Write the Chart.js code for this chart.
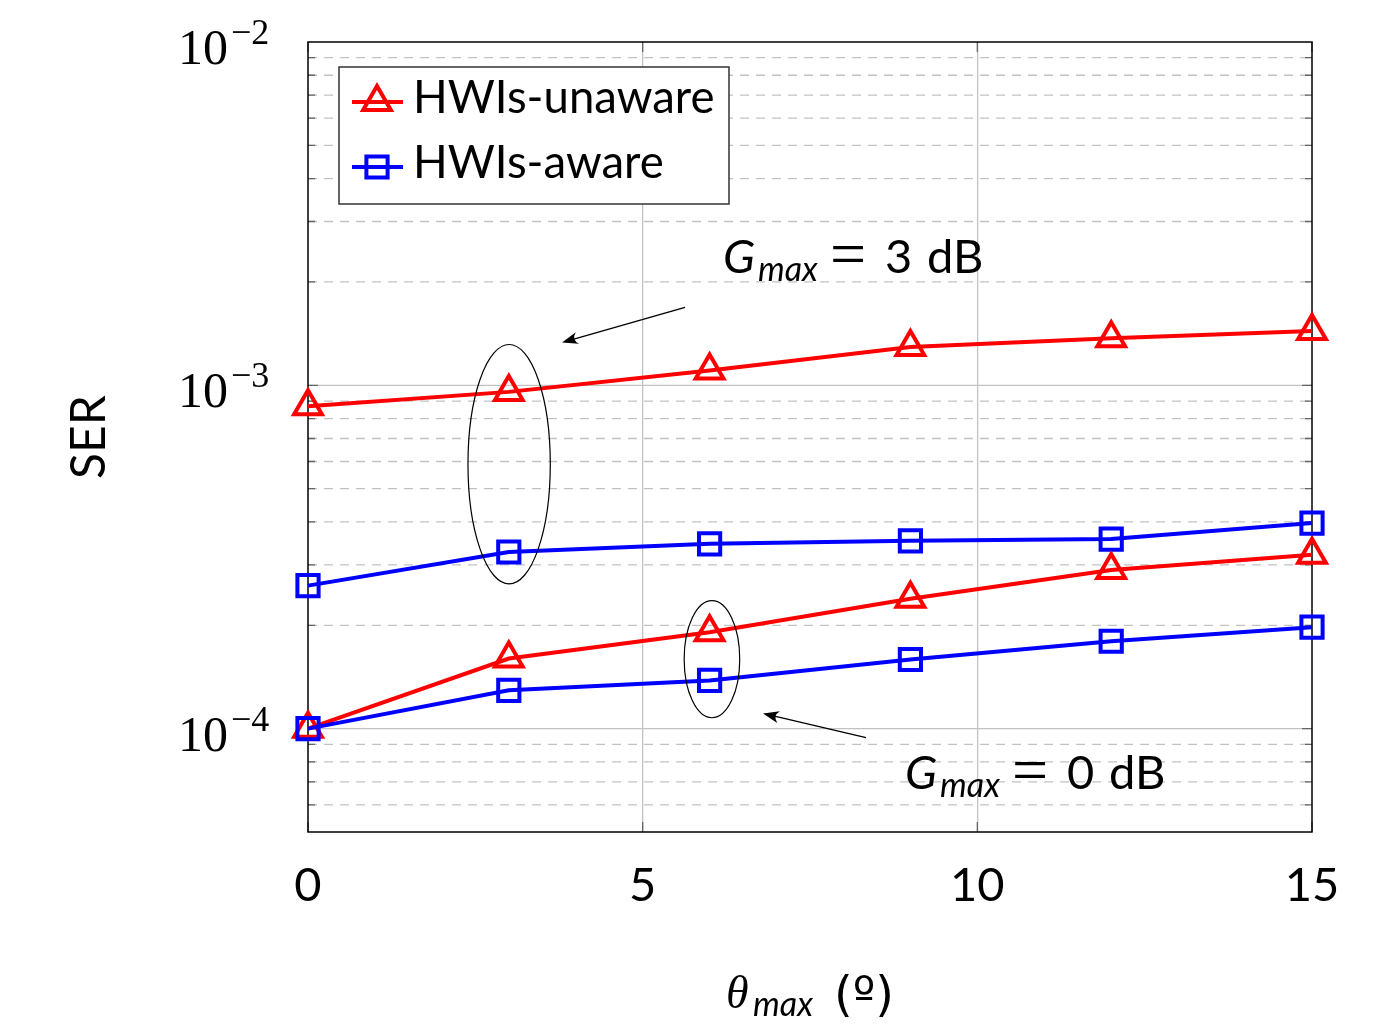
<!DOCTYPE html>
<html><head><meta charset="utf-8">
<script src="https://cdn.jsdelivr.net/npm/chart.js@4"></script>
<style>html,body{margin:0;padding:0;background:#fff;} canvas{display:block}</style>
</head><body>
<canvas id="c" width="1388" height="1028"></canvas>
<script>
// ---- data ----
const thetaMax = [0, 3, 6, 9, 12, 15];
const unaware3dB = [8.69e-4, 9.57e-4, 1.105e-3, 1.293e-3, 1.372e-3, 1.44e-3];
const aware3dB   = [2.61e-4, 3.27e-4, 3.455e-4, 3.525e-4, 3.565e-4, 3.97e-4];
const unaware0dB = [1.0e-4, 1.60e-4, 1.91e-4, 2.39e-4, 2.90e-4, 3.21e-4];
const aware0dB   = [1.0e-4, 1.293e-4, 1.382e-4, 1.59e-4, 1.797e-4, 1.975e-4];
const xTicks = [0, 5, 10, 15];
const yMajorExps = [-4, -3, -2];
const legendLabels = ['HWIs-unaware', 'HWIs-aware'];
// annotation anchors in data coordinates
const noteTexts = [{x: 6.2, y: 2.13e-3, val: '3'}, {x: 8.92, y: 6.69e-5, val: '0'}];
const noteEllipses = [{x0: 2.39, x1: 3.62, y0: 2.64e-4, y1: 1.315e-3}, {x0: 5.62, x1: 6.45, y0: 1.076e-4, y1: 2.36e-4}];
const noteArrows = [{fx: 5.633, fy: 1.686e-3, tx: 3.795, ty: 1.333e-3}, {fx: 8.337, fy: 9.42e-5, tx: 6.798, ty: 1.107e-4}];

const RED = '#ff0000', BLUE = '#0000ff';
const SANS = 'Lato';
const pts = arr => thetaMax.map((t, i) => ({x: t, y: arr[i]}));
function ds(label, arr, color, style, order) {
  const r = style === 'triangle' ? 16 : 15;
  return {label, data: pts(arr), borderColor: color, backgroundColor: color, borderWidth: 4,
    pointStyle: style, pointRadius: r, pointHoverRadius: r, pointBorderWidth: 4,
    pointBorderColor: color, pointBackgroundColor: 'rgba(0,0,0,0)', clip: false, order, tension: 0};
}
const isDecade = v => Math.abs(Math.log10(v) - Math.round(Math.log10(v))) < 1e-9;

function drawTri(ctx, x, y, r) {
  ctx.beginPath();
  let rad = 0;
  ctx.moveTo(x + Math.sin(rad) * r, y - Math.cos(rad) * r);
  rad += 2 * Math.PI / 3; ctx.lineTo(x + Math.sin(rad) * r, y - Math.cos(rad) * r);
  rad += 2 * Math.PI / 3; ctx.lineTo(x + Math.sin(rad) * r, y - Math.cos(rad) * r);
  ctx.closePath(); ctx.stroke();
}
function drawSq(ctx, x, y, r) {
  const s = Math.SQRT1_2 * r;
  ctx.beginPath(); ctx.rect(x - s, y - s, 2 * s, 2 * s); ctx.stroke();
}

const custom = {
  id: 'custom',
  beforeDatasetsDraw(chart) {
    const {ctx, chartArea: a, scales: {x, y}} = chart;
    ctx.save();
    ctx.lineWidth = 1.3;
    for (const t of y.ticks) {
      const py = y.getPixelForValue(t.value);
      if (py <= a.top + 0.5 || py >= a.bottom - 0.5) continue;
      const major = isDecade(t.value);
      ctx.beginPath();
      ctx.setLineDash(major ? [] : [9, 7]);
      ctx.strokeStyle = '#c2c2c2';
      ctx.moveTo(a.left, py); ctx.lineTo(a.right, py); ctx.stroke();
      ctx.setLineDash([]);
      ctx.strokeStyle = '#666';
      const L = major ? 10 : 7;
      ctx.beginPath();
      ctx.moveTo(a.left, py); ctx.lineTo(a.left + L, py);
      ctx.moveTo(a.right, py); ctx.lineTo(a.right - L, py);
      ctx.stroke();
    }
    ctx.strokeStyle = '#666';
    for (const v of xTicks) {
      const px = x.getPixelForValue(v);
      ctx.beginPath();
      ctx.moveTo(px, a.bottom); ctx.lineTo(px, a.bottom - 10);
      ctx.moveTo(px, a.top); ctx.lineTo(px, a.top + 10);
      ctx.stroke();
    }
    ctx.strokeStyle = '#000'; ctx.lineWidth = 1.5;
    ctx.strokeRect(a.left, a.top, a.right - a.left, a.bottom - a.top);
    ctx.restore();
  },
  afterDatasetsDraw(chart) {
    const {ctx, chartArea: a, scales: {x, y}} = chart;
    ctx.save();
    // legend
    ctx.fillStyle = '#fff'; ctx.strokeStyle = '#333'; ctx.lineWidth = 1.5;
    ctx.fillRect(a.left + 31, a.top + 25, 390, 137);
    ctx.strokeRect(a.left + 31, a.top + 25, 390, 137);
    const legendColors = [RED, BLUE];
    const rowY = [a.top + 60, a.top + 125];
    const baseY = [a.top + 71, a.top + 136];
    legendLabels.forEach((lab, i) => {
      ctx.strokeStyle = legendColors[i]; ctx.lineWidth = 4;
      ctx.beginPath(); ctx.moveTo(a.left + 44, rowY[i]); ctx.lineTo(a.left + 95, rowY[i]); ctx.stroke();
      if (i === 0) drawTri(ctx, a.left + 69, rowY[i], 16); else drawSq(ctx, a.left + 69, rowY[i], 15);
      ctx.fillStyle = '#000'; ctx.font = `45.5px ${SANS}`; ctx.textAlign = 'left'; ctx.textBaseline = 'alphabetic';
      ctx.fillText(lab, a.left + 105, baseY[i]);
    });
    // ellipses
    ctx.strokeStyle = '#000'; ctx.lineWidth = 1.2;
    for (const e of noteEllipses) {
      const x0 = x.getPixelForValue(e.x0), x1 = x.getPixelForValue(e.x1);
      const y0 = y.getPixelForValue(e.y0), y1 = y.getPixelForValue(e.y1);
      ctx.beginPath();
      ctx.ellipse((x0 + x1) / 2, (y0 + y1) / 2, Math.abs(x1 - x0) / 2, Math.abs(y1 - y0) / 2, 0, 0, 2 * Math.PI);
      ctx.stroke();
    }
    // arrows
    for (const r of noteArrows) {
      const fx = x.getPixelForValue(r.fx), fy = y.getPixelForValue(r.fy);
      const tx = x.getPixelForValue(r.tx), ty = y.getPixelForValue(r.ty);
      const ang = Math.atan2(ty - fy, tx - fx);
      const L = 16, W = 6;
      ctx.lineWidth = 1.4; ctx.strokeStyle = '#000'; ctx.fillStyle = '#000';
      ctx.beginPath(); ctx.moveTo(fx, fy);
      ctx.lineTo(tx - Math.cos(ang) * L * 0.6, ty - Math.sin(ang) * L * 0.6); ctx.stroke();
      ctx.save(); ctx.translate(tx, ty); ctx.rotate(ang);
      ctx.beginPath(); ctx.moveTo(0, 0); ctx.lineTo(-L, -W); ctx.quadraticCurveTo(-L * 0.6, 0, -L, W); ctx.closePath(); ctx.fill();
      ctx.restore();
    }
    // annotation texts
    for (const n of noteTexts) {
      const px = x.getPixelForValue(n.x), py = y.getPixelForValue(n.y);
      ctx.fillStyle = '#000'; ctx.textAlign = 'left'; ctx.textBaseline = 'alphabetic';
      ctx.font = `italic 47px ${SANS}`; ctx.fillText('G', px, py);
      ctx.font = `italic 34px ${SANS}`; ctx.fillText('max', px + 35, py + 8);
      ctx.font = `64px 'Liberation Serif'`; ctx.fillText('=', px + 107, py + 2);
      ctx.font = `47px ${SANS}`; ctx.fillText(n.val, px + 162, py); ctx.fillText('dB', px + 204, py);
    }
    ctx.restore();
  },
  afterDraw(chart) {
    const {ctx, chartArea: a, scales: {y}} = chart;
    ctx.save();
    ctx.fillStyle = '#000'; ctx.textBaseline = 'alphabetic'; ctx.textAlign = 'left';
    for (const e of yMajorExps) {
      const py = y.getPixelForValue(Math.pow(10, e));
      ctx.font = `50px 'Liberation Serif'`;
      const w = ctx.measureText('10').width;
      const lx = a.left - 130;
      ctx.fillText('10', lx, py + 22);
      ctx.font = `36px 'Liberation Serif'`;
      ctx.fillText('\u2212' + Math.abs(e), lx + w + 3, py + 2);
    }
    // y title
    ctx.save();
    ctx.translate(a.left - 218, (a.top + a.bottom) / 2);
    ctx.rotate(-Math.PI / 2);
    ctx.font = `48px ${SANS}`; ctx.textAlign = 'center'; ctx.textBaseline = 'middle';
    ctx.fillText('SER', 0, 0);
    ctx.restore();
    // x title
    const cx = (a.left + a.right) / 2;
    ctx.textAlign = 'left'; ctx.textBaseline = 'alphabetic';
    ctx.font = `italic 46px 'Liberation Serif'`; ctx.fillText('\u03b8', cx - 84, 1008);
    ctx.font = `italic 34px ${SANS}`; ctx.fillText('max', cx - 57, 1016);
    ctx.font = `48px 'DejaVu Sans'`; ctx.fillText('(\u00ba)', cx + 24, 1011);
    ctx.restore();
  }
};

new Chart(document.getElementById('c'), {
  type: 'line',
  data: {
    datasets: [
      ds(legendLabels[0], unaware3dB, RED, 'triangle', 4),
      ds(legendLabels[1], aware3dB, BLUE, 'rect', 3),
      ds(legendLabels[0], unaware0dB, RED, 'triangle', 2),
      ds(legendLabels[1], aware0dB, BLUE, 'rect', 1)
    ]
  },
  options: {
    responsive: false, animation: false,
    layout: {padding: {top: 42, right: 76, left: 0, bottom: 0}},
    plugins: {legend: {display: false}, tooltip: {enabled: false}},
    scales: {
      x: {
        type: 'linear', min: 0, max: 15,
        afterBuildTicks: s => { s.ticks = xTicks.map(v => ({value: v})); },
        afterFit: s => { s.height = 196; },
        grid: {color: c => (c.tick && (c.tick.value === 5 || c.tick.value === 10)) ? '#c2c2c2' : 'rgba(0,0,0,0)', lineWidth: 1.3, drawTicks: false},
        border: {display: false},
        ticks: {color: '#000', font: {family: SANS, size: 47}, padding: 26, maxRotation: 0}
      },
      y: {
        type: 'logarithmic', min: 5e-5, max: 1e-2,
        afterBuildTicks: s => {
          const t = [];
          for (let e = -5; e <= -3; e++) for (let m = 1; m <= 9; m++) {
            const v = m * Math.pow(10, e);
            if (v >= 5e-5 * (1 - 1e-9)) t.push({value: v});
          }
          t.push({value: 1e-2});
          s.ticks = t;
        },
        afterFit: s => { s.width = 308; },
        grid: {display: false},
        border: {display: false},
        ticks: {display: false}
      }
    }
  },
  plugins: [custom]
});
</script>
</body></html>
